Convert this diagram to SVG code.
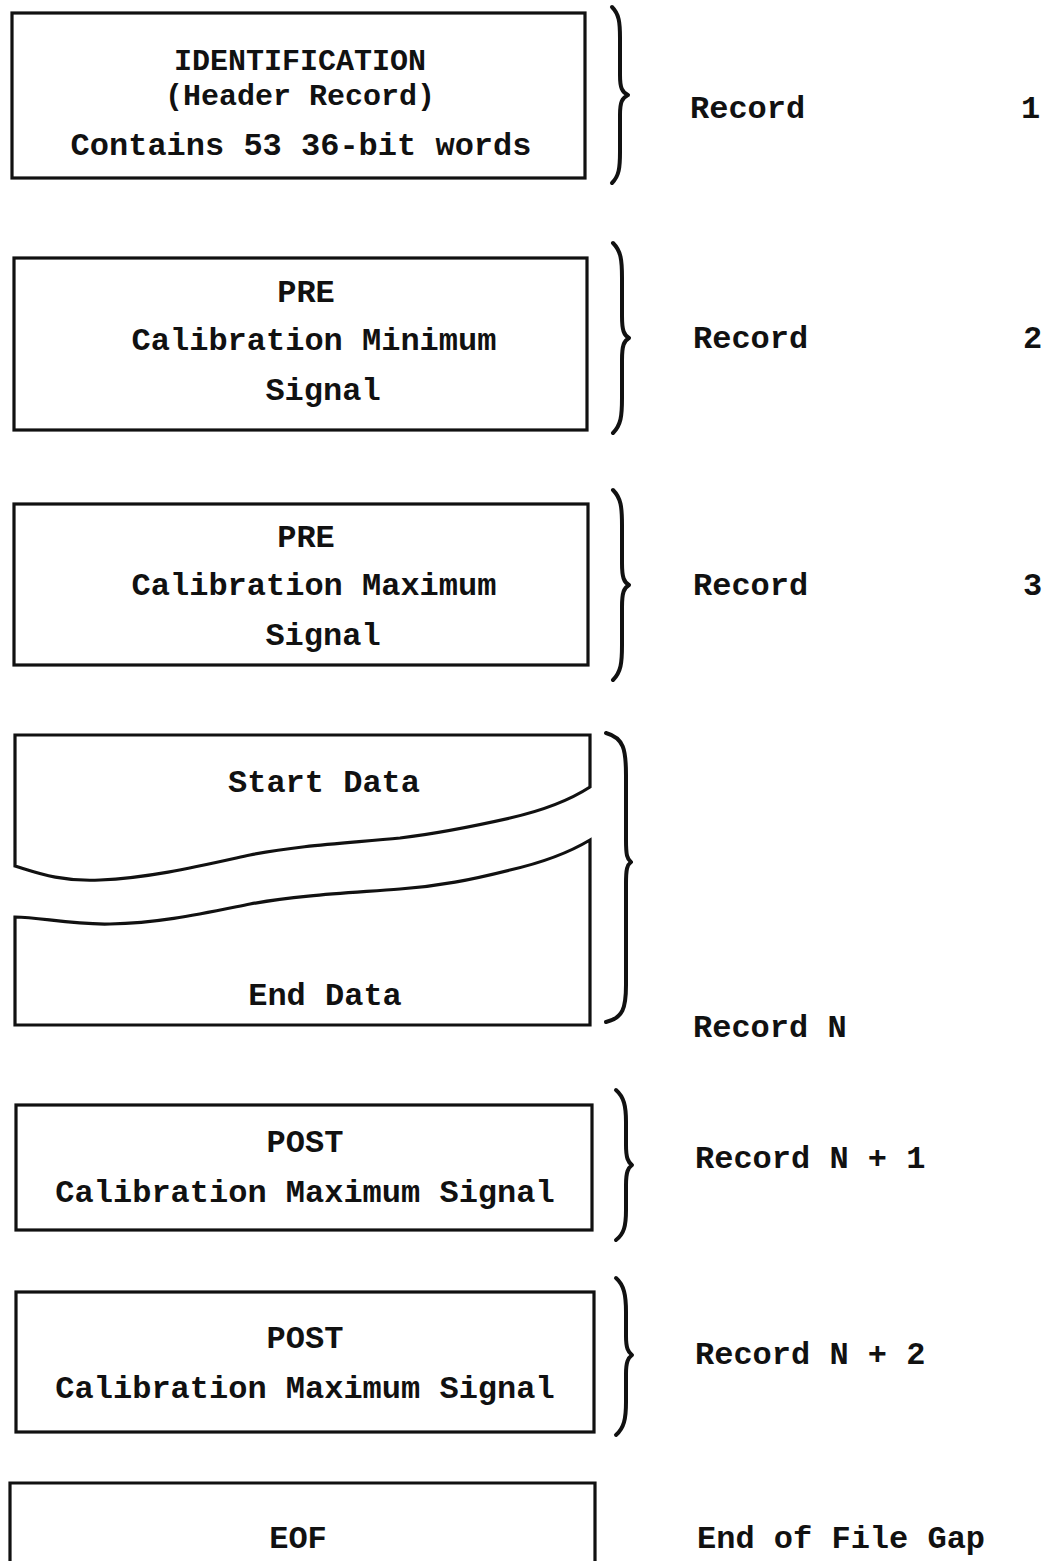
<svg xmlns="http://www.w3.org/2000/svg" width="1048" height="1561" viewBox="0 0 1048 1561">
  <style>
    .box { fill: none; stroke: #111; stroke-width: 3.2; stroke-linejoin: miter; }
    .brace { fill: none; stroke: #111; stroke-width: 4; stroke-linecap: round; stroke-linejoin: round; }
    .t { font-family: "Liberation Mono", "Courier New", monospace; font-size: 32px; font-weight: bold; fill: #111; }
    .s { font-size: 30px; }
    .c { text-anchor: middle; }
  </style>
  <rect width="1048" height="1561" fill="#ffffff"/>

  <!-- Record 1: header record -->
  <g id="record-1">
    <rect class="box" x="12" y="13" width="573" height="165"/>
    <text class="t s c" x="300" y="70">IDENTIFICATION</text>
    <text class="t s c" x="300" y="105">(Header Record)</text>
    <text class="t c" x="301" y="155">Contains 53 36-bit words</text>
    <text class="t" x="690" y="118">Record</text>
    <text class="t" x="1021" y="118">1</text>
  </g>

  <!-- Record 2 -->
  <g id="record-2">
    <rect class="box" x="14" y="258" width="573" height="172"/>
    <text class="t c" x="306" y="302">PRE</text>
    <text class="t c" x="314" y="350">Calibration Minimum</text>
    <text class="t c" x="323" y="400">Signal</text>
    <text class="t" x="693" y="348">Record</text>
    <text class="t" x="1023" y="348">2</text>
  </g>

  <!-- Record 3 -->
  <g id="record-3">
    <rect class="box" x="14" y="504" width="574" height="161"/>
    <text class="t c" x="306" y="547">PRE</text>
    <text class="t c" x="314" y="595">Calibration Maximum</text>
    <text class="t c" x="323" y="645">Signal</text>
    <text class="t" x="693" y="595">Record</text>
    <text class="t" x="1023" y="595">3</text>
  </g>

  <!-- Record N: data block, broken in the middle -->
  <g id="record-n">
    <path class="box" d="M 15,866 L 15,735 L 590,735 L 590,787
      C 570,800 545,810 510,818 C 470,827 440,833 400,838
      C 350,843 300,845 250,855 C 200,866 150,878 100,880
      C 60,882 35,872 15,866 Z"/>
    <path class="box" d="M 15,917 L 15,1025 L 590,1025 L 590,840
      C 570,852 545,862 510,870 C 470,880 440,886 400,889
      C 350,893 300,895 250,904 C 200,914 160,923 110,924
      C 70,925 40,917 15,917 Z"/>
    <text class="t c" x="324" y="792">Start Data</text>
    <text class="t c" x="325" y="1005">End Data</text>
    <text class="t" x="693" y="1037">Record N</text>
  </g>

  <!-- Record N + 1 -->
  <g id="record-n1">
    <rect class="box" x="16" y="1105" width="576" height="125"/>
    <text class="t c" x="305" y="1152">POST</text>
    <text class="t c" x="305" y="1202">Calibration Maximum Signal</text>
    <text class="t" x="695" y="1168">Record N + 1</text>
  </g>

  <!-- Record N + 2 -->
  <g id="record-n2">
    <rect class="box" x="16" y="1292" width="578" height="140"/>
    <text class="t c" x="305" y="1348">POST</text>
    <text class="t c" x="305" y="1398">Calibration Maximum Signal</text>
    <text class="t" x="695" y="1364">Record N + 2</text>
  </g>

  <!-- End of file -->
  <g id="eof">
    <path class="box" d="M 10,1575 L 10,1483 L 595,1483 L 595,1575"/>
    <text class="t c" x="298" y="1548">EOF</text>
    <text class="t" x="697" y="1548">End of File Gap</text>
  </g>

  <!-- Braces grouping each block with its record label -->
  <g id="connectors">
    <path class="brace" d="M 612,7 C 619,14 620,22 620,38 L 620,75 C 620,88 622,92 628,95 C 622,98 620,102 620,115 L 620,152 C 620,168 619,176 612,183"/>
    <path class="brace" d="M 613,243 C 621,251 622,260 622,278 L 622,316 C 622,331 624,335 629,338 C 624,341 622,345 622,360 L 622,398 C 622,416 621,425 613,433"/>
    <path class="brace" d="M 613,490 C 621,498 622,507 622,525 L 622,563 C 622,578 624,582 629,585 C 624,588 622,592 622,607 L 622,645 C 622,663 621,672 613,680"/>
    <path class="brace" d="M 606,733 C 624,738 626,750 626,775 L 626,840 C 626,855 627,859 631,862 C 627,865 626,869 626,884 L 626,985 C 626,1008 623,1018 606,1022"/>
    <path class="brace" d="M 616,1090 C 624,1097 626,1106 626,1122 L 626,1145 C 626,1158 628,1162 632,1165 C 628,1168 626,1172 626,1185 L 626,1210 C 626,1226 624,1234 616,1240"/>
    <path class="brace" d="M 616,1278 C 624,1285 626,1295 626,1312 L 626,1336 C 626,1348 628,1352 632,1355 C 628,1358 626,1362 626,1374 L 626,1402 C 626,1419 624,1428 616,1435"/>
  </g>
</svg>
